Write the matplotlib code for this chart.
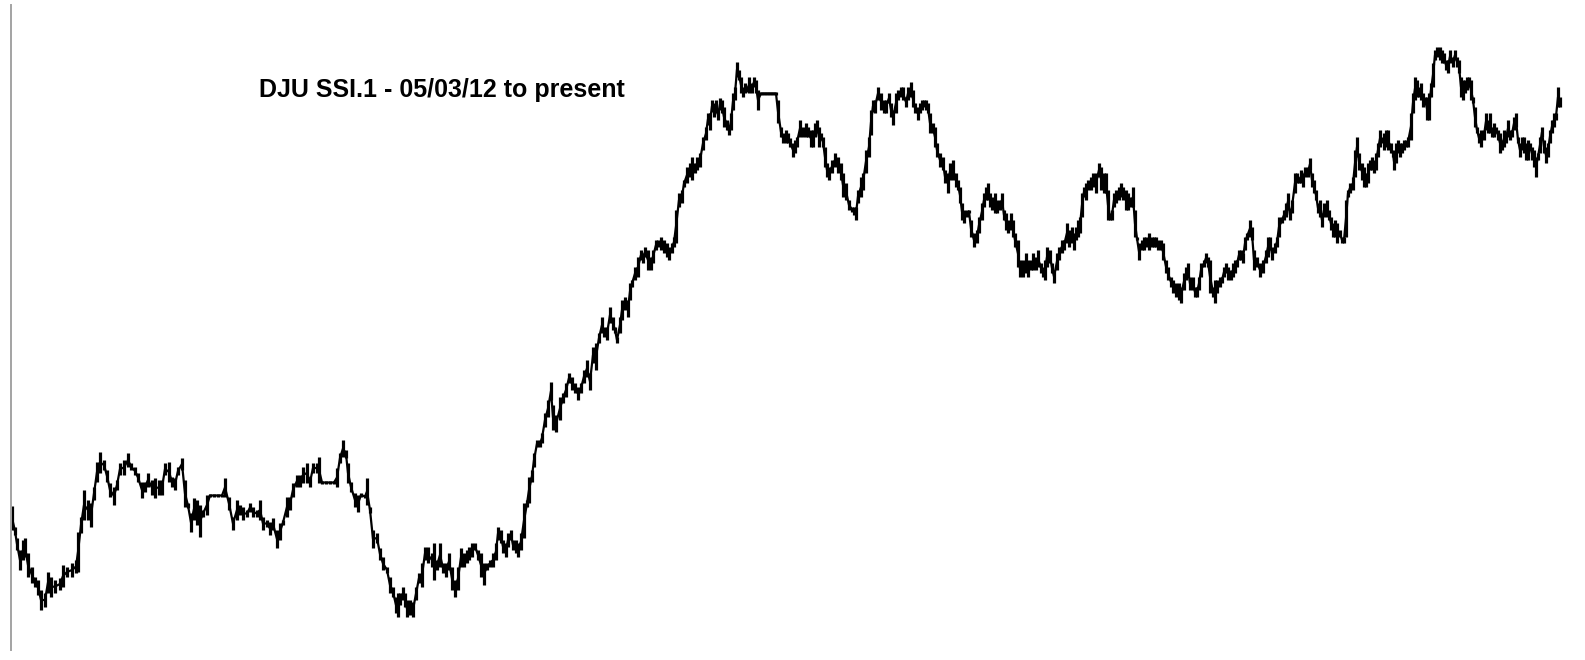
import matplotlib
matplotlib.use("Agg")
import matplotlib.pyplot as plt
import numpy as np

# ======================
# DATA
# ======================
# trading session position of each bar
day = [
    12, 15, 17, 20, 23, 25, 28, 32, 35, 38, 41, 45, 48, 51, 55, 60, 63, 67, 72, 76,
    78, 81, 84, 88, 91, 94, 97, 100, 104, 107, 110, 114, 117, 120, 124, 128, 131, 135, 138, 142,
    145, 148, 152, 155, 159, 162, 165, 169, 172, 175, 178, 182, 185, 188, 191, 194, 197, 200, 203, 207,
    210, 214, 218, 222, 225, 229, 233, 237, 240, 243, 247, 250, 253, 257, 260, 263, 267, 270, 273, 277,
    280, 283, 287, 290, 293, 297, 300, 303, 307, 310, 313, 317, 319, 322, 326, 330, 334, 337, 340, 343,
    346, 348, 351, 355, 358, 361, 365, 367, 370, 373, 377, 380, 383, 387, 390, 393, 396, 398, 400, 403,
    405, 407, 410, 413, 416, 419, 422, 425, 428, 432, 434, 437, 440, 443, 446, 449, 452, 455, 458, 461,
    464, 467, 469, 472, 475, 478, 481, 484, 487, 490, 493, 496, 498, 501, 503, 506, 508, 511, 513, 516,
    518, 521, 524, 527, 529, 532, 534, 537, 540, 542, 545, 548, 551, 553, 556, 560, 563, 566, 569, 572,
    575, 578, 581, 584, 587, 590, 593, 596, 599, 602, 604, 607, 610, 613, 615, 617, 620, 622, 625, 628,
    630, 632, 635, 638, 641, 643, 645, 648, 651, 653, 656, 658, 661, 664, 667, 669, 672, 674, 676, 679,
    682, 684, 687, 690, 692, 695, 697, 700, 703, 706, 708, 710, 712, 714, 716, 718, 720, 722, 724, 727,
    729, 731, 733, 735, 737, 739, 741, 743, 745, 747, 749, 752, 754, 756, 758, 761, 764, 767, 770, 773,
    776, 778, 781, 783, 786, 788, 790, 793, 795, 797, 800, 803, 806, 808, 811, 813, 815, 817, 819, 821,
    823, 825, 827, 829, 832, 835, 838, 841, 843, 846, 849, 852, 854, 856, 858, 861, 863, 866, 869, 871,
    873, 875, 878, 881, 884, 886, 889, 891, 893, 896, 898, 901, 903, 906, 908, 911, 913, 915, 918, 920,
    922, 924, 926, 928, 930, 933, 935, 937, 940, 943, 945, 948, 950, 953, 956, 958, 960, 962, 964, 967,
    969, 971, 974, 977, 979, 982, 984, 986, 988, 990, 992, 995, 997, 1000, 1002, 1004, 1006, 1008, 1011, 1013,
    1015, 1018, 1020, 1023, 1026, 1028, 1031, 1033, 1036, 1038, 1041, 1043, 1045, 1047, 1050, 1052, 1054, 1057, 1059, 1062,
    1064, 1067, 1069, 1072, 1074, 1076, 1078, 1080, 1082, 1084, 1086, 1088, 1091, 1093, 1096, 1099, 1101, 1104, 1106, 1108,
    1110, 1112, 1114, 1116, 1119, 1121, 1123, 1126, 1128, 1131, 1133, 1135, 1137, 1139, 1142, 1144, 1146, 1149, 1152, 1154,
    1156, 1158, 1161, 1163, 1166, 1168, 1171, 1173, 1176, 1179, 1181, 1184, 1186, 1188, 1190, 1193, 1195, 1197, 1199, 1201,
    1204, 1206, 1208, 1210, 1213, 1215, 1217, 1220, 1222, 1224, 1226, 1228, 1231, 1233, 1235, 1237, 1239, 1241, 1243, 1245,
    1247, 1250, 1252, 1254, 1257, 1260, 1263, 1266, 1268, 1270, 1272, 1275, 1277, 1279, 1282, 1284, 1286, 1288, 1290, 1292,
    1295, 1297, 1299, 1301, 1303, 1305, 1308, 1310, 1312, 1314, 1316, 1318, 1320, 1322, 1324, 1327, 1329, 1331, 1333, 1335,
    1337, 1340, 1342, 1344, 1346, 1348, 1350, 1353, 1355, 1357, 1359, 1362, 1364, 1366, 1368, 1370, 1372, 1374, 1376, 1378,
    1380, 1382, 1384, 1386, 1388, 1391, 1393, 1394, 1396, 1398, 1400, 1402, 1404, 1406, 1408, 1411, 1413, 1415, 1417, 1419,
    1421, 1423, 1425, 1427, 1429, 1431, 1433, 1435, 1437, 1440, 1442, 1444, 1446, 1448, 1450, 1453, 1455, 1457, 1459, 1461,
    1463, 1465, 1467, 1469, 1471, 1473, 1475, 1477, 1479, 1481, 1484, 1486, 1488, 1490, 1492, 1494, 1496, 1498, 1500, 1502,
    1504, 1506, 1508, 1510, 1512, 1514, 1516, 1518, 1520, 1522, 1524, 1526, 1528, 1530, 1532, 1534, 1536, 1538, 1540, 1542,
    1544, 1546, 1548, 1550, 1552, 1554, 1556, 1558, 1560,
]

# bar highs (index level)
high = [
    154, 133, 122, 110, 120, 122, 107, 93, 83, 80, 70, 67, 88, 83, 80, 82, 95, 93, 97, 100,
    128, 143, 170, 160, 157, 173, 198, 208, 200, 190, 177, 173, 180, 197, 200, 207, 197, 193, 187, 178,
    178, 187, 180, 182, 180, 180, 197, 198, 183, 182, 193, 202, 180, 157, 147, 162, 160, 155, 150, 165,
    166, 166, 166, 166, 182, 163, 143, 160, 155, 153, 150, 157, 153, 150, 160, 143, 140, 138, 142, 130,
    137, 140, 163, 163, 177, 185, 185, 193, 197, 183, 197, 197, 203, 179, 179, 179, 179, 192, 207, 220,
    210, 197, 178, 167, 165, 167, 165, 182, 153, 130, 127, 112, 103, 93, 83, 73, 63, 67, 67, 73,
    67, 60, 60, 58, 73, 87, 97, 113, 113, 107, 117, 100, 117, 97, 97, 107, 93, 80, 93, 112,
    107, 110, 113, 117, 117, 110, 107, 97, 97, 100, 107, 117, 133, 130, 120, 117, 127, 130, 120, 120,
    117, 127, 157, 160, 183, 190, 207, 220, 220, 227, 247, 260, 278, 255, 245, 263, 267, 277, 287, 283,
    277, 273, 277, 290, 300, 287, 313, 317, 327, 343, 333, 333, 353, 343, 333, 323, 343, 360, 363, 360,
    377, 380, 393, 403, 410, 407, 413, 410, 403, 410, 420, 420, 423, 420, 417, 413, 417, 423, 450, 467,
    470, 480, 493, 497, 503, 497, 503, 507, 523, 533, 547, 547, 560, 557, 560, 550, 562, 560, 553, 540,
    533, 547, 567, 573, 598, 590, 583, 573, 577, 573, 583, 577, 583, 580, 570, 568, 568, 568, 568, 568,
    568, 560, 533, 527, 530, 527, 522, 517, 520, 523, 540, 533, 537, 533, 530, 530, 537, 540, 533, 527,
    523, 513, 497, 493, 500, 507, 503, 497, 487, 477, 460, 453, 453, 453, 470, 483, 487, 510, 523, 550,
    560, 560, 573, 567, 560, 560, 567, 557, 550, 567, 570, 573, 573, 563, 573, 578, 570, 557, 553, 557,
    560, 560, 560, 557, 547, 537, 533, 517, 507, 503, 490, 487, 497, 500, 487, 480, 473, 457, 450, 450,
    450, 440, 427, 430, 443, 457, 467, 473, 477, 467, 463, 467, 460, 460, 467, 450, 447, 440, 447, 440,
    427, 420, 400, 400, 407, 400, 400, 407, 403, 410, 397, 393, 400, 413, 410, 397, 390, 407, 413, 420,
    420, 437, 430, 433, 427, 433, 440, 443, 467, 473, 477, 480, 483, 487, 487, 497, 493, 487, 487, 470,
    447, 450, 467, 470, 473, 477, 473, 470, 467, 463, 473, 450, 423, 417, 420, 423, 423, 427, 423, 423,
    423, 420, 420, 417, 400, 393, 383, 380, 377, 377, 373, 387, 393, 397, 383, 383, 373, 373, 383, 397,
    400, 407, 403, 400, 373, 380, 380, 383, 383, 393, 397, 393, 390, 397, 400, 400, 410, 410, 407, 423,
    427, 440, 433, 410, 403, 397, 400, 410, 423, 423, 413, 417, 423, 443, 443, 450, 457, 467, 450, 460,
    487, 487, 483, 490, 487, 493, 493, 502, 487, 480, 470, 457, 460, 447, 457, 460, 450, 443, 437, 440,
    437, 430, 423, 423, 460, 470, 477, 483, 510, 523, 507, 497, 493, 487, 497, 500, 503, 500, 507, 517,
    530, 523, 527, 530, 530, 517, 510, 507, 517, 520, 517, 517, 520, 520, 523, 547, 567, 583, 580, 573,
    577, 567, 563, 563, 567, 577, 597, 610, 613, 613, 610, 607, 600, 600, 610, 603, 610, 603, 600, 583,
    580, 580, 583, 583, 580, 563, 553, 533, 527, 530, 530, 547, 540, 547, 533, 537, 533, 530, 527, 520,
    530, 527, 540, 530, 530, 543, 547, 523, 517, 523, 523, 517, 520, 517, 513, 510, 503, 507, 523, 533,
    520, 513, 517, 530, 540, 547, 547, 573, 563,
]

# bar lows (index level)
low = [
    130, 125, 110, 90, 100, 103, 83, 77, 73, 65, 50, 53, 67, 63, 67, 70, 73, 83, 83, 87,
    88, 127, 140, 140, 133, 160, 178, 187, 190, 178, 163, 155, 170, 185, 185, 193, 190, 185, 178, 162,
    168, 173, 165, 162, 165, 165, 185, 178, 173, 170, 185, 190, 153, 152, 128, 140, 135, 123, 143, 145,
    163, 163, 163, 163, 163, 150, 130, 140, 145, 140, 143, 148, 143, 143, 140, 130, 133, 125, 130, 112,
    120, 135, 143, 150, 163, 173, 173, 177, 177, 173, 187, 187, 177, 176, 176, 176, 176, 173, 197, 203,
    202, 177, 168, 153, 148, 163, 162, 155, 147, 112, 117, 100, 90, 87, 67, 63, 47, 43, 55, 60,
    53, 43, 45, 43, 60, 77, 73, 100, 97, 93, 80, 90, 93, 87, 83, 90, 70, 63, 70, 93,
    93, 97, 100, 103, 110, 100, 83, 75, 90, 93, 93, 100, 120, 117, 107, 103, 113, 120, 110, 107,
    103, 110, 122, 153, 157, 178, 193, 213, 213, 217, 233, 243, 260, 230, 228, 240, 257, 263, 277, 270,
    267, 260, 267, 277, 283, 270, 297, 290, 317, 327, 323, 320, 337, 330, 327, 317, 327, 340, 350, 343,
    360, 373, 380, 383, 400, 397, 403, 390, 390, 397, 410, 413, 410, 407, 403, 400, 407, 413, 417, 453,
    457, 473, 477, 483, 480, 487, 490, 493, 510, 520, 535, 530, 548, 543, 547, 540, 550, 547, 533, 530,
    525, 530, 550, 560, 583, 580, 567, 563, 567, 568, 567, 567, 573, 567, 550, 565, 565, 565, 565, 565,
    565, 537, 523, 517, 517, 517, 513, 503, 507, 513, 523, 523, 523, 523, 513, 513, 523, 527, 513, 520,
    513, 493, 483, 480, 487, 493, 487, 480, 463, 460, 450, 448, 445, 440, 457, 463, 470, 487, 503, 525,
    548, 547, 560, 550, 547, 547, 557, 543, 535, 547, 560, 563, 560, 553, 560, 563, 553, 547, 540, 547,
    550, 553, 550, 547, 527, 527, 513, 503, 493, 490, 477, 467, 480, 480, 473, 470, 457, 440, 437, 443,
    447, 423, 413, 417, 427, 440, 453, 460, 460, 453, 450, 447, 447, 450, 453, 440, 430, 427, 430, 423,
    413, 393, 383, 383, 387, 383, 390, 390, 390, 393, 387, 383, 380, 393, 397, 387, 377, 390, 400, 407,
    410, 417, 413, 417, 410, 420, 423, 427, 443, 463, 460, 470, 470, 473, 467, 483, 470, 467, 467, 440,
    440, 440, 453, 457, 460, 463, 460, 450, 450, 453, 453, 423, 420, 400, 410, 410, 413, 410, 413, 413,
    413, 410, 410, 400, 387, 380, 373, 367, 363, 360, 357, 370, 380, 383, 370, 370, 363, 363, 370, 383,
    393, 397, 393, 367, 363, 357, 367, 373, 377, 383, 387, 380, 380, 383, 387, 393, 400, 400, 397, 410,
    420, 423, 420, 390, 393, 383, 387, 397, 403, 410, 400, 407, 413, 423, 437, 440, 443, 450, 440, 447,
    467, 477, 477, 477, 473, 483, 483, 490, 473, 467, 460, 447, 443, 433, 443, 443, 440, 430, 423, 423,
    417, 423, 417, 417, 423, 463, 467, 470, 483, 503, 490, 480, 473, 473, 477, 490, 490, 487, 490, 503,
    513, 517, 510, 513, 510, 507, 503, 490, 497, 507, 503, 507, 510, 513, 513, 520, 547, 560, 563, 563,
    560, 553, 557, 540, 540, 563, 573, 600, 603, 600, 597, 597, 590, 587, 597, 593, 600, 593, 587, 563,
    560, 567, 570, 573, 560, 557, 533, 527, 517, 513, 520, 530, 527, 527, 523, 523, 527, 520, 507, 510,
    513, 517, 523, 520, 523, 530, 533, 517, 503, 510, 507, 500, 500, 510, 500, 493, 483, 500, 507, 523,
    507, 497, 503, 517, 527, 533, 540, 553, 553,
]

title = "DJU SSI.1 - 05/03/12 to present"

# ======================
# FIGURE
# ======================
fig = plt.figure(figsize=(15.85, 6.6), dpi=100)
ax = fig.add_axes([11 / 1585, 10 / 660, 1 - 11 / 1585, 645 / 660])

day_arr = np.array(day)
high_arr = np.array(high)
low_arr = np.array(low)
mid = (high_arr + low_arr) / 2

# high-low bars plus a line joining them
ax.vlines(day_arr, low_arr, high_arr, color="black", linewidth=2.3)
ax.plot(day_arr, mid, color="black", linewidth=1.6)

ax.set_xlim(11, 1585)
ax.set_ylim(10, 655)

# only the grey left axis line is shown
for side in ["top", "right", "bottom"]:
    ax.spines[side].set_visible(False)
ax.spines["left"].set_color("#a3a3a3")
ax.spines["left"].set_linewidth(1.4)
ax.set_xticks([])
ax.set_yticks([])

fig.text(259 / 1585, (660 - 97) / 660, title, fontsize=18, fontweight="bold",
         family=["Liberation Sans", "DejaVu Sans"], ha="left", va="baseline")

plt.savefig("out.png", dpi=100)
plt.close()
